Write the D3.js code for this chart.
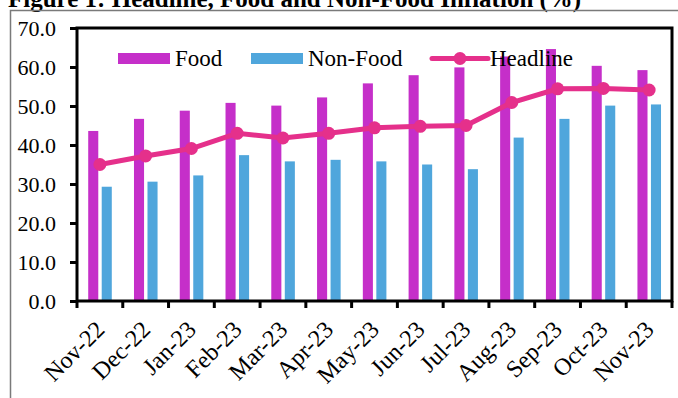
<!DOCTYPE html>
<html>
<head>
<meta charset="utf-8">
<script src="https://cdn.jsdelivr.net/npm/d3@7"></script>
<style>
  body { margin: 0; background: #fff; }
  svg text { font-family: "Liberation Serif", "Times New Roman", serif !important; }
</style>
</head>
<body>
<div id="chart"></div>
<script>
// chart data
var months = ["Nov-22", "Dec-22", "Jan-23", "Feb-23", "Mar-23", "Apr-23", "May-23",
  "Jun-23", "Jul-23", "Aug-23", "Sep-23", "Oct-23", "Nov-23"];
var food = [43.6, 46.7, 48.8, 50.8, 50.1, 52.2, 55.8, 57.9, 59.9, 62.7, 64.6, 60.3, 59.2];
var nonFood = [29.3, 30.6, 32.2, 37.4, 35.8, 36.2, 35.8, 35.0, 33.8, 41.9, 46.7, 50.1, 50.4];
var headline = [35.0, 37.2, 39.1, 43.0, 41.8, 43.0, 44.4, 44.8, 45.0, 50.9, 54.4, 54.5, 54.1];
var yTicks = [0, 10, 20, 30, 40, 50, 60, 70];

var svgWidth = 678;
var svgHeight = 398;

var margin = { top: 28, right: 6, bottom: 97, left: 77 };
var width = svgWidth - margin.left - margin.right;
var height = svgHeight - margin.top - margin.bottom;

var colFood = "#c52fc9";
var colNonFood = "#4fa6dc";
var colHead = "#e5308b";

var svg = d3.select("#chart")
  .append("svg")
  .attr("width", svgWidth)
  .attr("height", svgHeight);

// title (cut off at the top, as in the original)
svg.append("text")
  .attr("x", 8)
  .attr("y", 7)
  .attr("font-size", "25px")
  .attr("font-weight", "bold")
  .text("Figure 1: Headline, Food and Non-Food Inflation (%)");

// grey outer frame
svg.append("path")
  .attr("d", "M10.5," + svgHeight + " V10.5 H" + svgWidth)
  .attr("fill", "none")
  .attr("stroke", "#7a7a7a")
  .attr("stroke-width", 1.5);

var chartGroup = svg.append("g")
  .attr("transform", `translate(${margin.left}, ${margin.top})`);

// scales
var xScale = d3.scaleBand()
  .domain(months)
  .range([0, width]);

var yScale = d3.scaleLinear()
  .domain([0, 70])
  .range([height, 0]);

var bw = xScale.bandwidth();

// bars
chartGroup.selectAll(".food")
  .data(food)
  .enter()
  .append("rect")
  .attr("class", "food")
  .attr("x", (d, i) => xScale(months[i]) + bw * 0.245)
  .attr("y", d => yScale(d))
  .attr("width", bw * 0.22)
  .attr("height", d => height - yScale(d))
  .attr("fill", colFood);

chartGroup.selectAll(".nonfood")
  .data(nonFood)
  .enter()
  .append("rect")
  .attr("class", "nonfood")
  .attr("x", (d, i) => xScale(months[i]) + bw * 0.54)
  .attr("y", d => yScale(d))
  .attr("width", bw * 0.22)
  .attr("height", d => height - yScale(d))
  .attr("fill", colNonFood);

// headline line
var line = d3.line()
  .x((d, i) => xScale(months[i]) + bw / 2)
  .y(d => yScale(d));

chartGroup.append("path")
  .datum(headline)
  .attr("d", line)
  .attr("fill", "none")
  .attr("stroke", colHead)
  .attr("stroke-width", 5);

chartGroup.selectAll(".dot")
  .data(headline)
  .enter()
  .append("circle")
  .attr("class", "dot")
  .attr("cx", (d, i) => xScale(months[i]) + bw / 2)
  .attr("cy", d => yScale(d))
  .attr("r", 6.5)
  .attr("fill", colHead);

// axes
var yAxis = d3.axisLeft(yScale)
  .tickValues(yTicks)
  .tickFormat(d3.format(".1f"))
  .tickSize(7)
  .tickPadding(14);

var yG = chartGroup.append("g").call(yAxis);
yG.select(".domain").remove();
yG.selectAll("line").attr("stroke", "#000").attr("stroke-width", 3);
yG.selectAll("text").attr("font-size", "22px").attr("fill", "#000");

// x ticks at band boundaries
chartGroup.selectAll(".xtick")
  .data(months.concat(["end"]))
  .enter()
  .append("line")
  .attr("class", "xtick")
  .attr("x1", (d, i) => i < months.length ? xScale(d) : width)
  .attr("x2", (d, i) => i < months.length ? xScale(d) : width)
  .attr("y1", height)
  .attr("y2", height + 7)
  .attr("stroke", "#000")
  .attr("stroke-width", 3);

chartGroup.selectAll(".xlabel")
  .data(months)
  .enter()
  .append("text")
  .attr("class", "xlabel")
  .attr("text-anchor", "end")
  .attr("font-size", "24px")
  .attr("transform", d => `translate(${xScale(d) + bw / 2 + 6}, ${height + 30}) rotate(-45)`)
  .text(d => d);

// plot frame
chartGroup.append("rect")
  .attr("x", 0)
  .attr("y", 0)
  .attr("width", width)
  .attr("height", height)
  .attr("fill", "none")
  .attr("stroke", "#000")
  .attr("stroke-width", 3);

// legend
var legend = svg.append("g");

legend.append("rect")
  .attr("x", 118).attr("y", 53)
  .attr("width", 52).attr("height", 11)
  .attr("fill", colFood);
legend.append("text")
  .attr("x", 175).attr("y", 66)
  .attr("font-size", "23px")
  .text("Food");

legend.append("rect")
  .attr("x", 251).attr("y", 53)
  .attr("width", 52).attr("height", 11)
  .attr("fill", colNonFood);
legend.append("text")
  .attr("x", 308).attr("y", 66)
  .attr("font-size", "23px")
  .text("Non-Food");

legend.append("line")
  .attr("x1", 432).attr("x2", 488)
  .attr("y1", 58.5).attr("y2", 58.5)
  .attr("stroke", colHead)
  .attr("stroke-width", 5)
  .attr("stroke-linecap", "round");
legend.append("circle")
  .attr("cx", 460).attr("cy", 58.5)
  .attr("r", 6.5)
  .attr("fill", colHead);
legend.append("text")
  .attr("x", 490).attr("y", 66)
  .attr("font-size", "23px")
  .text("Headline");
</script>
</body>
</html>
